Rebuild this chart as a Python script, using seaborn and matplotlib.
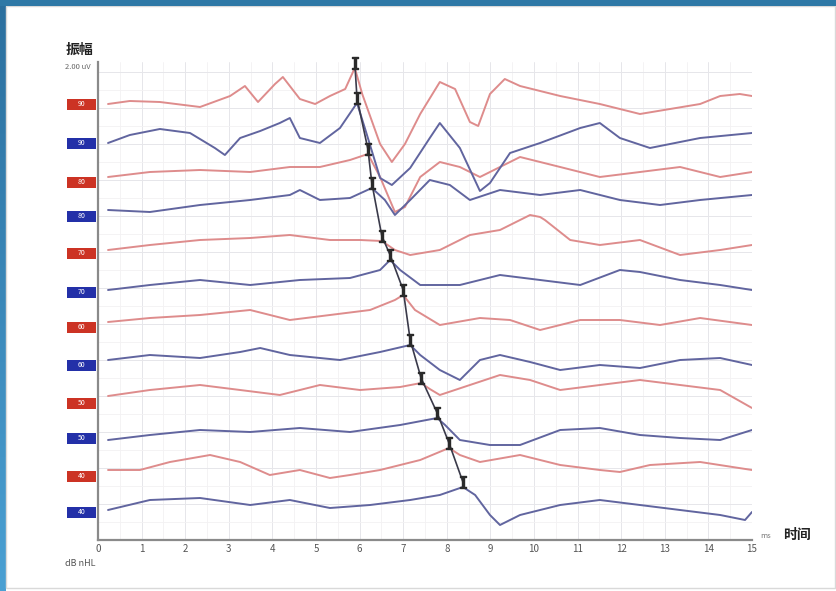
"""
ABR 波形图 — 12 条叠加波形, V 波标记并连线.
输出: out.png
"""
import matplotlib.pyplot as plt
import numpy as np
import pandas as pd
import seaborn as sns
from matplotlib.patches import Rectangle

sns.set_theme(style="white", context="notebook")
plt.rcParams["font.family"] = ["Noto Sans CJK SC", "DejaVu Sans"]

# ---- data (latency in ms, amplitude in chart units relative to each baseline) ----
levels = ["90", "90", "80", "80", "70", "70", "60", "60", "50", "50", "40", "40"]
ears = ["R", "L", "R", "L", "R", "L", "R", "L", "R", "L", "R", "L"]
offsets = [436, 397, 358, 324, 287, 248, 213, 175, 137, 102, 64, 28]

t_1 = [0.23, 0.73, 1.42, 2.34, 3.03, 3.37, 3.67, 4.06, 4.24, 4.63, 4.98, 5.32, 5.67, 5.89, 6.06, 6.47, 6.74, 7.04,
       7.39, 7.84, 8.19, 8.53, 8.72, 8.99, 9.33, 9.68, 10.60, 11.51, 12.43, 13.12, 13.81, 14.27, 14.72, 15.0]
a_1 = [0, 3, 2, -3, 8, 18, 2, 20, 27, 5, 0, 8, 15, 36, 10, -40, -58, -40,
       -10, 22, 15, -18, -22, 10, 25, 18, 8, 0, -10, -5, 0, 8, 10, 8]
t_2 = [0.23, 0.73, 1.42, 2.11, 2.68, 2.91, 3.26, 3.72, 4.17, 4.40, 4.63, 5.09, 5.55, 5.94, 6.12, 6.47, 6.74, 7.16,
       7.61, 7.84, 8.30, 8.76, 8.99, 9.45, 10.14, 11.06, 11.51, 11.97, 12.66, 13.81, 15.0]
a_2 = [0, 8, 14, 10, -5, -12, 5, 12, 20, 25, 5, 0, 15, 40, 15, -35, -42, -25,
       5, 20, -5, -48, -40, -10, 0, 15, 20, 5, -5, 5, 10]
t_3 = [0.23, 1.19, 2.34, 3.49, 4.40, 5.09, 5.78, 6.19, 6.47, 6.81, 7.04, 7.39, 7.84, 8.30, 8.76, 9.22, 9.68,
       10.14, 10.60, 11.51, 12.43, 13.35, 14.27, 15.0]
a_3 = [5, 10, 12, 10, 15, 15, 22, 28, 5, -30, -25, 5, 20, 15, 5, 15, 25, 20, 15, 5, 10, 15, 5, 10]
t_4 = [0.23, 1.19, 2.34, 3.49, 4.40, 4.63, 5.09, 5.78, 6.28, 6.58, 6.81, 7.16, 7.61, 8.07, 8.53, 9.22, 10.14,
       11.06, 11.97, 12.89, 13.81, 15.0]
a_4 = [6, 4, 11, 16, 21, 26, 16, 18, 28, 16, 1, 16, 36, 31, 16, 26, 21, 26, 16, 11, 16, 21]
t_5 = [0.23, 1.19, 2.34, 3.49, 4.40, 5.32, 6.01, 6.51, 6.81, 7.16, 7.84, 8.53, 9.22, 9.91, 10.14, 10.25, 10.83,
       11.51, 12.43, 13.35, 14.27, 15.0]
a_5 = [3, 8, 13, 15, 18, 13, 13, 12, 3, -2, 3, 18, 23, 38, 36, 33, 13, 8, 13, -2, 3, 8]
t_6 = [0.23, 1.19, 2.34, 3.49, 4.63, 5.78, 6.47, 6.70, 6.93, 7.39, 8.30, 9.22, 10.14, 11.06, 11.97, 12.43, 13.35,
       14.27, 15.0]
a_6 = [2, 7, 12, 7, 12, 14, 22, 32, 22, 7, 7, 17, 12, 7, 22, 20, 12, 7, 2]
t_7 = [0.23, 1.19, 2.34, 3.49, 4.40, 5.32, 6.24, 6.81, 7.0, 7.27, 7.84, 8.76, 9.45, 10.14, 11.06, 11.97, 12.89,
       13.81, 15.0]
a_7 = [5, 9, 12, 17, 7, 12, 17, 27, 32, 17, 2, 9, 7, -3, 7, 7, 2, 9, 2]
t_8 = [0.23, 1.19, 2.34, 3.26, 3.72, 4.40, 5.55, 6.47, 7.16, 7.39, 7.84, 8.30, 8.76, 9.22, 9.91, 10.60, 11.51,
       12.43, 13.35, 14.27, 15.0]
a_8 = [5, 10, 7, 13, 17, 10, 5, 13, 20, 10, -5, -15, 5, 10, 3, -5, 0, -3, 5, 7, 0]
t_9 = [0.23, 1.19, 2.34, 3.26, 4.17, 5.09, 6.01, 6.93, 7.41, 7.61, 7.84, 8.53, 9.22, 9.91, 10.60, 11.51, 12.43,
       13.35, 14.27, 15.0]
a_9 = [7, 13, 18, 13, 8, 18, 13, 16, 20, 14, 8, 18, 28, 23, 13, 18, 23, 18, 13, -5]
t_10 = [0.23, 1.19, 2.34, 3.49, 4.63, 5.78, 6.93, 7.78, 7.96, 8.30, 8.99, 9.68, 10.60, 11.51, 12.43, 13.35,
        14.27, 15.0]
a_10 = [-2, 3, 8, 6, 10, 6, 13, 20, 13, -2, -7, -7, 8, 10, 3, 0, -2, 8]
t_11 = [0.23, 0.96, 1.65, 2.57, 3.26, 3.94, 4.63, 5.32, 5.78, 6.47, 7.39, 8.05, 8.30, 8.76, 9.68, 10.60, 11.51,
        11.97, 12.66, 13.81, 15.0]
a_11 = [6, 6, 14, 21, 14, 1, 6, -2, 1, 6, 16, 28, 21, 14, 21, 11, 6, 4, 11, 14, 6]
t_12 = [0.23, 1.19, 2.34, 3.49, 4.40, 5.32, 6.24, 7.16, 7.84, 8.37, 8.65, 8.99, 9.22, 9.68, 10.60, 11.51, 12.43,
        13.35, 14.27, 14.84, 15.0]
a_12 = [2, 12, 14, 7, 12, 4, 7, 12, 17, 25, 17, -3, -13, -3, 7, 12, 7, 2, -3, -8, 0]

# V 波潜伏期 (ms)
wave_v = [5.89, 5.94, 6.19, 6.28, 6.51, 6.70, 7.0, 7.16, 7.41, 7.78, 8.05, 8.37]

x_ticks = list(range(16))

RED = "#de8c8c"
BLUE = "#61659f"
BOX_RED = "#cc3324"
BOX_BLUE = "#2330a8"


def build_frame() -> pd.DataFrame:
    ts = [t_1, t_2, t_3, t_4, t_5, t_6, t_7, t_8, t_9, t_10, t_11, t_12]
    amps = [a_1, a_2, a_3, a_4, a_5, a_6, a_7, a_8, a_9, a_10, a_11, a_12]
    rows = []
    for i, (t, a) in enumerate(zip(ts, amps)):
        for ms, v in zip(t, a):
            rows.append({"ms": ms, "y": offsets[i] + v, "trace": i, "ear": ears[i]})
    return pd.DataFrame(rows)


def main() -> None:
    df = build_frame()

    fig = plt.figure(figsize=(8.37, 5.91), dpi=100)
    W, H = 837, 591

    # 外框: 顶部与左侧的蓝色边
    bg = fig.add_axes([0, 0, 1, 1], zorder=-5)
    bg.set_xlim(0, W)
    bg.set_ylim(H, 0)
    bg.axis("off")
    bg.add_patch(Rectangle((6, 6), W - 8, H - 9, facecolor="white", edgecolor="#d9d9d9", lw=1))
    bg.add_patch(Rectangle((0, 0), W, 5.5, facecolor="#2e78a6", edgecolor="none"))
    grad = np.linspace(0, 1, 256).reshape(-1, 1)
    bg.imshow(grad, extent=(0, 5.5, H, 0), aspect="auto",
              cmap=sns.blend_palette(["#2b6f9e", "#4aa0d3"], as_cmap=True))

    ax = fig.add_axes([98 / W, 1 - 540 / H, 654 / W, 478 / H])
    ax.set_facecolor("none")
    sns.lineplot(data=df, x="ms", y="y", hue="ear", units="trace", estimator=None, sort=False,
                 palette={"R": RED, "L": BLUE}, linewidth=1.4, legend=False, ax=ax)

    # V 波标记与连线
    ts = [t_1, t_2, t_3, t_4, t_5, t_6, t_7, t_8, t_9, t_10, t_11, t_12]
    amps = [a_1, a_2, a_3, a_4, a_5, a_6, a_7, a_8, a_9, a_10, a_11, a_12]
    vy = [offsets[i] + np.interp(wave_v[i], ts[i], amps[i]) + 5 for i in range(12)]
    ax.plot(wave_v, vy, color="#3a3a4a", lw=1.2, zorder=4, clip_on=False)
    ax.plot(wave_v, vy, ls="none", marker=r"$\mathtt{I}$", ms=9, color="#2a2a2a",
            zorder=5, clip_on=False)

    # 左侧电平标签
    for i in range(12):
        c = BOX_RED if ears[i] == "R" else BOX_BLUE
        ax.add_patch(Rectangle((-0.70, offsets[i] - 5.5), 0.66, 11, facecolor=c,
                               edgecolor="none", clip_on=False, zorder=3))
        ax.text(-0.37, offsets[i], levels[i], color="white", fontsize=5, ha="center",
                va="center", clip_on=False, zorder=4)

    ax.set_xlim(0, 15)
    ax.set_ylim(0, 478)
    ax.set_xticks(x_ticks)
    ax.set_xticks(np.arange(0, 15.01, 0.5), minor=True)
    ax.set_yticks(np.arange(0, 479, 36))
    ax.set_yticks(np.arange(0, 479, 18), minor=True)
    ax.set_yticklabels([])
    ax.set_xlabel("")
    ax.set_ylabel("")
    ax.grid(True, which="major", color="#e6e6ea", lw=0.7)
    ax.grid(True, which="minor", color="#f3f1f3", lw=0.6)
    ax.tick_params(axis="x", which="major", direction="in", length=5, color="#888888",
                   labelsize=7, labelcolor="#555555", pad=3)
    ax.tick_params(axis="x", which="minor", direction="in", length=2.5, color="#aaaaaa")
    ax.tick_params(axis="y", length=0)
    for s in ("top", "right"):
        ax.spines[s].set_visible(False)
    for s in ("left", "bottom"):
        ax.spines[s].set_color("#8a8a8a")
        ax.spines[s].set_linewidth(1.6)

    # 轴标题文字
    fig.text(80 / W, 1 - 50 / H, "振幅", fontsize=10, fontweight="bold", color="#222222",
             ha="center", va="center")
    fig.text(78 / W, 1 - 67 / H, "2.00 uV", fontsize=5.5, color="#666666", ha="center", va="center")
    fig.text(80 / W, 1 - 563 / H, "dB nHL", fontsize=6.5, color="#555555", ha="center", va="center")
    fig.text(766 / W, 1 - 536 / H, "ms", fontsize=5.5, color="#777777", ha="center", va="center")
    fig.text(797 / W, 1 - 535 / H, "时间", fontsize=10, fontweight="bold", color="#222222",
             ha="center", va="center")

    fig.savefig("out.png", dpi=100)
    plt.close(fig)


if __name__ == "__main__":
    main()
